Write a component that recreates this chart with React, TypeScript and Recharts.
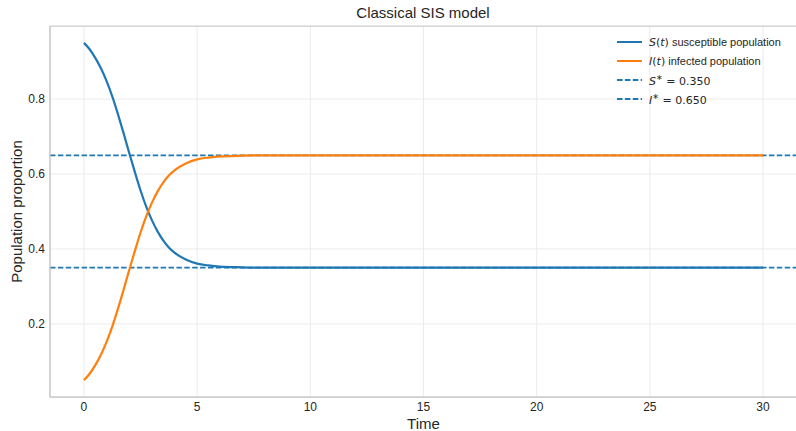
import { CartesianGrid, Line, LineChart, ReferenceArea, ReferenceLine, XAxis, YAxis } from "recharts";

const timeValues = [0, 0.25, 0.5, 0.75, 1, 1.25, 1.5, 1.75, 2, 2.25, 2.5, 2.75, 3, 3.25, 3.5, 3.75, 4, 4.5, 5, 5.5, 6, 7, 8, 10, 15, 20, 25, 30];
const susceptible = [0.95, 0.933, 0.91, 0.882, 0.848, 0.807, 0.76, 0.709, 0.656, 0.605, 0.556, 0.513, 0.477, 0.447, 0.423, 0.404, 0.39, 0.372, 0.361, 0.356, 0.353, 0.351, 0.35, 0.35, 0.35, 0.35, 0.35, 0.35];
const infected = [0.05, 0.067, 0.09, 0.118, 0.152, 0.193, 0.24, 0.291, 0.344, 0.395, 0.444, 0.487, 0.523, 0.553, 0.577, 0.596, 0.61, 0.628, 0.639, 0.644, 0.647, 0.649, 0.65, 0.65, 0.65, 0.65, 0.65, 0.65];
const xTicks = [0, 5, 10, 15, 20, 25, 30];
const yTicks = [0.2, 0.4, 0.6, 0.8];
const sStar = 0.35;
const iStar = 0.65;

const BLUE = "#1f77b4";
const ORANGE = "#ff7f0e";
const TEXT = "#262626";
const SANS = "'Liberation Sans', Arial, sans-serif";
const MATH = "'DejaVu Sans', sans-serif";

const rows = timeValues.map((t, i) => ({ t, s: susceptible[i], inf: infected[i] }));

function YLabel({ viewBox }: any) {
  const cy = viewBox.y + viewBox.height / 2;
  return (
    <text
      x={16}
      y={cy}
      transform={`rotate(-90 16 ${cy})`}
      textAnchor="middle"
      dominantBaseline="central"
      fontSize={15}
      fontFamily={SANS}
      fill={TEXT}
    >
      Population proportion
    </text>
  );
}

function XLabel({ viewBox }: any) {
  return (
    <text
      x={viewBox.x + viewBox.width / 2}
      y={429}
      textAnchor="middle"
      fontSize={15}
      fontFamily={SANS}
      fill={TEXT}
    >
      Time
    </text>
  );
}

function LegendRow({ y, color, dashed, children }: any) {
  return (
    <div style={{ position: "absolute", left: 0, top: y - 8, height: 16, display: "flex", alignItems: "center" }}>
      <svg width={34} height={16}>
        <line x1={2} x2={27} y1={8} y2={8} stroke={color} strokeWidth={2} strokeDasharray={dashed ? "5.5 2.4" : undefined} />
      </svg>
      <span style={{ fontSize: 11, color: TEXT, whiteSpace: "nowrap" }}>{children}</span>
    </div>
  );
}

const it = { fontFamily: MATH, fontStyle: "italic" as const };
const mt = { fontFamily: MATH };

export default function App() {
  return (
    <div style={{ position: "absolute", left: 0, top: 0, width: 796, height: 431, overflow: "hidden", background: "#fff", fontFamily: SANS }}>
      <div style={{ position: "absolute", left: 0, width: 846, top: 4, textAlign: "center", fontSize: 15, color: TEXT }}>
        Classical SIS model
      </div>
      <LineChart width={797} height={431} data={rows} margin={{ top: 26, right: 0, bottom: 0, left: 0 }}>
        <CartesianGrid stroke="#ebebeb" strokeWidth={1} verticalValues={xTicks} horizontalValues={yTicks} />
        <XAxis
          dataKey="t"
          type="number"
          domain={[-1.5, 31.5]}
          ticks={xTicks}
          height={34}
          tickLine={false}
          tickSize={3}
          tickMargin={2}
          axisLine={{ stroke: "#cccccc", strokeWidth: 1.25 }}
          tick={{ fill: TEXT, fontSize: 12, fontFamily: SANS }}
          label={<XLabel />}
        />
        <YAxis
          type="number"
          domain={[0.005, 0.995]}
          ticks={yTicks}
          width={50}
          tickLine={false}
          tickSize={3}
          tickMargin={2}
          tickFormatter={(v: number) => v.toFixed(1)}
          axisLine={{ stroke: "#cccccc", strokeWidth: 1.25 }}
          tick={{ fill: TEXT, fontSize: 12, fontFamily: SANS }}
          label={<YLabel />}
        />
        <ReferenceArea x1={-1.5} x2={31.5} y1={0.005} y2={0.995} fill="none" stroke="#cccccc" strokeWidth={1.25} />
        <ReferenceLine y={sStar} stroke={BLUE} strokeWidth={1.8} strokeDasharray="5.5 2.4" />
        <ReferenceLine y={iStar} stroke={BLUE} strokeWidth={1.8} strokeDasharray="5.5 2.4" />
        <Line dataKey="s" type="monotone" stroke={BLUE} strokeWidth={2.2} dot={false} isAnimationActive={false} />
        <Line dataKey="inf" type="monotone" stroke={ORANGE} strokeWidth={2.2} dot={false} isAnimationActive={false} />
      </LineChart>
      <div style={{ position: "absolute", left: 615, top: 0, width: 181, height: 120 }}>
        <LegendRow y={42} color={BLUE}>
          <span style={it}>S</span><span style={mt}>(</span><span style={it}>t</span><span style={mt}>)</span> susceptible population
        </LegendRow>
        <LegendRow y={61} color={ORANGE}>
          <span style={it}>I</span><span style={mt}>(</span><span style={it}>t</span><span style={mt}>)</span> infected population
        </LegendRow>
        <LegendRow y={80} color={BLUE} dashed>
          <span style={it}>S</span><sup style={{ ...mt, fontSize: 8 }}>∗</sup><span style={mt}> = 0.350</span>
        </LegendRow>
        <LegendRow y={99} color={BLUE} dashed>
          <span style={it}>I</span><sup style={{ ...mt, fontSize: 8 }}>∗</sup><span style={mt}> = 0.650</span>
        </LegendRow>
      </div>
    </div>
  );
}
